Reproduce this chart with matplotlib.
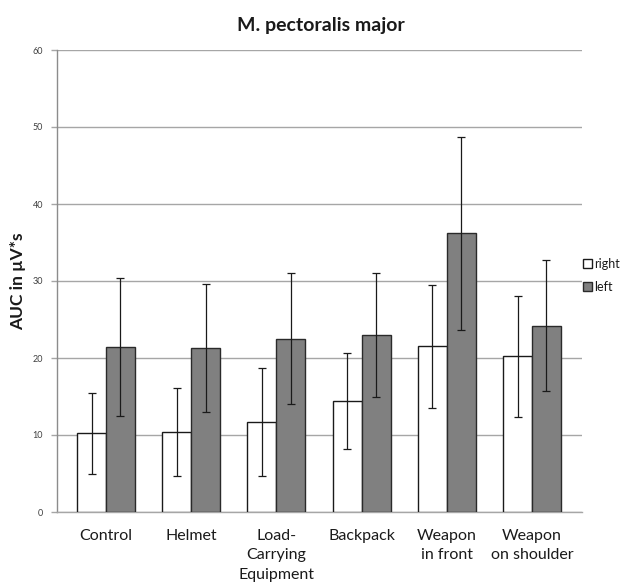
import matplotlib
matplotlib.use("Agg")
import matplotlib.pyplot as plt
import numpy as np

plt.rcParams['font.family'] = ['Lato', 'DejaVu Sans']

categories = ["Control", "Helmet", "Load-\nCarrying\nEquipment", "Backpack",
              "Weapon\nin front", "Weapon\non shoulder"]
right_mean = [10.2, 10.35, 11.7, 14.4, 21.5, 20.2]
right_sd = [5.2, 5.7, 7.0, 6.2, 8.0, 7.9]
left_mean = [21.4, 21.25, 22.5, 23.0, 36.2, 24.2]
left_sd = [8.95, 8.3, 8.5, 8.0, 12.55, 8.5]
yticks = [0, 10, 20, 30, 40, 50, 60]

fig = plt.figure(figsize=(6.41, 5.88), dpi=100)
ax = fig.add_axes([57/641, 1-512/588, (582-57)/641, (512-50)/588])

x = np.arange(len(categories))
w = 0.34
ax.bar(x - w/2, right_mean, w, color='white', edgecolor='#1a1a1a', linewidth=1.0,
       label='right', zorder=3)
ax.bar(x + w/2, left_mean, w, color='#808080', edgecolor='#2a2a2a', linewidth=1.0,
       label='left', zorder=3)
ax.errorbar(x - w/2, right_mean, yerr=right_sd, fmt='none', ecolor='#1a1a1a',
            elinewidth=0.9, capsize=3, capthick=0.9, zorder=4)
ax.errorbar(x + w/2, left_mean, yerr=left_sd, fmt='none', ecolor='#1a1a1a',
            elinewidth=0.9, capsize=3, capthick=0.9, zorder=4)

ax.set_ylim(0, 60)
ax.set_xlim(-0.575, 5.587)
ax.set_yticks(yticks)
ax.set_yticklabels([str(t) for t in yticks], fontsize=6.5, color='#404040')
ax.yaxis.grid(True, color='#a6a6a6', linewidth=1.0, zorder=0)
ax.set_axisbelow(True)
ax.tick_params(axis='y', length=4, width=1.0, color='#a6a6a6', pad=6)
ax.tick_params(axis='x', length=0, pad=12)
ax.set_xticks(x)
ax.set_xticklabels(categories, fontsize=11.5, color='#1a1a1a', linespacing=1.5,
                   va='top')
for s in ['top', 'right']:
    ax.spines[s].set_visible(False)
ax.spines['left'].set_color('#8c8c8c')
ax.spines['bottom'].set_color('#a6a6a6')
ax.spines['left'].set_linewidth(1.0)
ax.spines['bottom'].set_linewidth(1.0)

fig.text(18/641, 1-281/588, 'AUC in µV*s', fontsize=12.5, fontweight='bold',
         color='#1a1a1a', rotation=90, ha='center', va='center')
fig.text(321/641, 1-25/588, 'M. pectoralis major', fontsize=14, fontweight='bold',
         ha='center', va='center', color='#1a1a1a')

leg = ax.legend(loc='upper left', bbox_to_anchor=(582/641 + 0.002, 1-258/588),
                bbox_transform=fig.transFigure, frameon=False, fontsize=9,
                handlelength=0.7, handleheight=0.7, handletextpad=0.2,
                labelspacing=0.9, borderaxespad=0, borderpad=0)
for t in leg.get_texts():
    t.set_color('#1a1a1a')

fig.savefig('out.png', dpi=100)
